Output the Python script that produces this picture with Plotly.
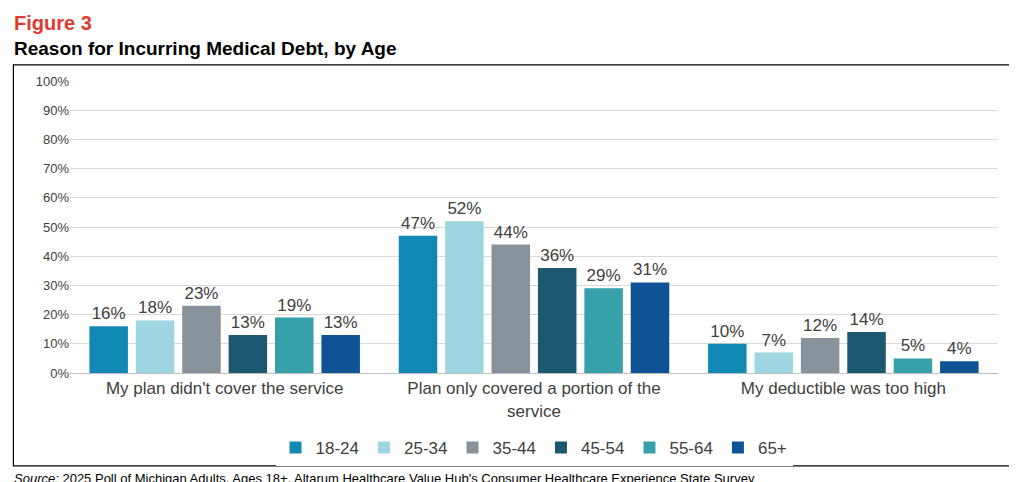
import plotly.graph_objects as go

categories = ["My plan didn't cover the service",
              "Plan only covered a portion of the<br>service",
              "My deductible was too high"]
age_groups = ["18-24", "25-34", "35-44", "45-54", "55-64", "65+"]
values = {
    "18-24": [16, 47, 10],
    "25-34": [18, 52, 7],
    "35-44": [23, 44, 12],
    "45-54": [13, 36, 14],
    "55-64": [19, 29, 5],
    "65+": [13, 31, 4],
}
colors = ["#1289B5", "#9DD6E0", "#88929A", "#1D5871", "#37A0AB", "#0E5395"]
y_ticks = list(range(0, 101, 10))

fig = go.Figure()
for age, col in zip(age_groups, colors):
    fig.add_trace(go.Bar(
        name=age, x=categories, y=values[age],
        marker=dict(color=col, line=dict(width=0)),
        text=[f"{v}%" for v in values[age]], textposition="outside",
        textfont=dict(size=17, color="#404040"), cliponaxis=False,
    ))

fig.update_layout(
    width=1017, height=482, barmode="group", bargap=0.1, bargroupgap=0.17,
    plot_bgcolor="white", paper_bgcolor="white",
    margin=dict(l=62, r=27, t=73, b=117, autoexpand=False),
    font=dict(family="Liberation Sans, Arial", color="#404040"),
    legend=dict(orientation="h", x=0.5, xanchor="center", y=-0.257, yanchor="middle",
                font=dict(size=17), traceorder="normal", itemwidth=30),
    xaxis=dict(tickfont=dict(size=17, color="#404040"), showline=True,
               linecolor="#BFBFBF"),
    yaxis=dict(range=[0, 100], tickvals=y_ticks,
               ticktext=[f"{t}%" for t in y_ticks], tickfont=dict(size=13),
               gridcolor="#D9D9D9", zeroline=False),
    showlegend=True,
)
fig.add_shape(type="rect", xref="paper", yref="paper",
              x0=-0.061, x1=1.024, y0=-0.318, y1=1.055,
              line=dict(color="black", width=1.2))
fig.add_annotation(text="<b>Figure 3</b>", xref="paper", yref="paper",
                   x=-0.063, y=1.20, xanchor="left", yanchor="middle",
                   showarrow=False, font=dict(size=20, color="#E03A2E"))
fig.add_annotation(text="<b>Reason for Incurring Medical Debt, by Age</b>",
                   xref="paper", yref="paper", x=-0.063, y=1.113,
                   xanchor="left", yanchor="middle", showarrow=False,
                   font=dict(size=19, color="black"))
fig.add_annotation(text="<i>Source:</i> 2025 Poll of Michigan Adults, Ages 18+, Altarum Healthcare Value Hub's Consumer Healthcare Experience State Survey",
                   xref="paper", yref="paper", x=-0.063, y=-0.36,
                   xanchor="left", yanchor="middle", showarrow=False,
                   font=dict(size=13, color="black"))
fig.write_html("out.html")
